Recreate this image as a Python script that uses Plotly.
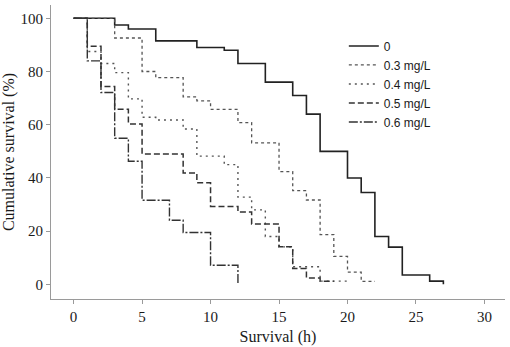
import plotly.graph_objects as go

# Kaplan-Meier style survival steps (hours, % survival)
labels = ["0", "0.3 mg/L", "0.4 mg/L", "0.5 mg/L", "0.6 mg/L"]

times_0 = [0, 3, 4, 6, 9, 11, 12, 14, 16, 17, 18, 20, 21, 22, 23, 24, 26, 27]
surv_0 = [100, 97.5, 96, 91.5, 89, 88, 83, 76, 71, 64, 50, 40, 34.5, 18, 14, 3.5, 1.2, 0]

times_03 = [0, 3, 5, 6, 8, 9, 10, 12, 13, 15, 16, 17, 18, 19, 20, 21, 22]
surv_03 = [100, 92.6, 80, 77.7, 70.5, 69, 65.8, 60.8, 53.2, 42.4, 35.2, 31.7, 18.7, 10.5, 4.6, 1.1, 1.1]

times_04 = [0, 1, 2, 3, 4, 5, 6, 8, 9, 11, 12, 13, 14, 15, 16, 18, 20]
surv_04 = [100, 87.5, 83, 79.6, 69.7, 62.8, 61.8, 58.4, 48.2, 45, 32.8, 28, 18, 14.1, 6.6, 1.2, 1.2]

times_05 = [0, 1, 2, 3, 4, 5, 8, 9, 10, 12, 13, 15, 16, 17, 18, 19]
surv_05 = [100, 89.5, 74.4, 65.8, 60.3, 49, 41.9, 38.2, 29.3, 27.2, 22.7, 14.1, 6, 2.4, 1.2, 1.2]

times_06 = [0, 1, 2, 3, 4, 5, 7, 8, 10, 12]
surv_06 = [100, 84, 72.1, 54.9, 46.3, 31.6, 24.1, 19.5, 7.2, 0]

x_ticks = [0, 5, 10, 15, 20, 25, 30]
y_ticks = [0, 20, 40, 60, 80, 100]

series = [
    (times_0, surv_0, dict(color="#222222", width=1.6, dash="solid")),
    (times_03, surv_03, dict(color="#555555", width=1.3, dash="dot")),
    (times_04, surv_04, dict(color="#555555", width=1.4, dash="2px,4px")),
    (times_05, surv_05, dict(color="#333333", width=1.5, dash="6px,3px")),
    (times_06, surv_06, dict(color="#333333", width=1.4, dash="9px,2px,2px,2px")),
]

fig = go.Figure()
for (t, s, ln), name in zip(series, labels):
    fig.add_trace(go.Scatter(x=t, y=s, mode="lines", name=name,
                             line=dict(shape="hv", **ln)))

axis_common = dict(
    showline=True, linecolor="#9a9a9a", linewidth=1.2,
    ticks="outside", ticklen=4, tickcolor="#9a9a9a", tickwidth=1,
    showgrid=False, zeroline=False, automargin=False,
    tickfont=dict(family="Liberation Serif", size=15, color="#1a1a1a"),
)

fig.update_layout(
    width=510, height=347,
    margin=dict(l=51, r=5, t=5, b=48),
    plot_bgcolor="white", paper_bgcolor="white",
    xaxis=dict(range=[-1.65, 31.5], tickvals=x_ticks,
               title=dict(text="Survival (h)", standoff=6,
                          font=dict(family="Liberation Serif", size=16, color="#1a1a1a")),
               **axis_common),
    yaxis=dict(range=[-5.5, 105], tickvals=y_ticks,
               title=dict(text="Cumulative survival (%)", standoff=4,
                          font=dict(family="Liberation Serif", size=16, color="#1a1a1a")),
               **axis_common),
    legend=dict(x=0.645, y=0.91, xanchor="left", yanchor="top",
                bgcolor="rgba(0,0,0,0)", itemwidth=30, tracegroupgap=0,
                font=dict(family="Liberation Sans", size=12, color="#1a1a1a")),
    showlegend=True,
)

fig.write_html("out.html", config={"displayModeBar": False},
               post_script="document.body.style.margin='0';document.body.style.overflow='hidden';")
